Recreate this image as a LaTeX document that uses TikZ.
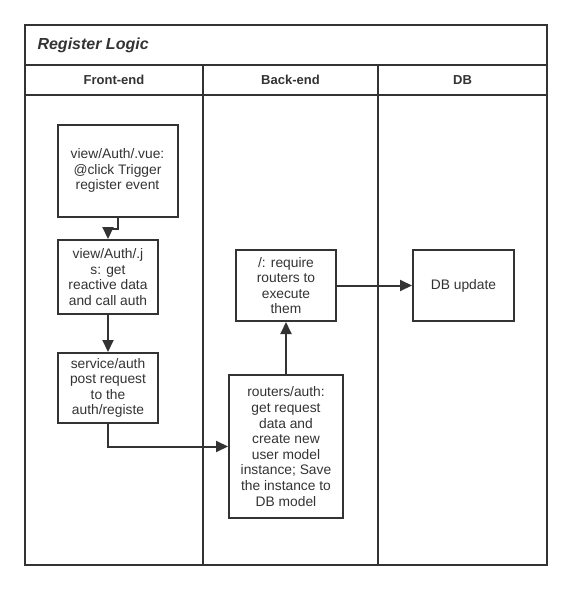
\documentclass[tikz,border=0pt]{standalone}
\usepackage{fontspec}
\setmainfont{Liberation Sans}
\usetikzlibrary{arrows.meta}
\definecolor{ink}{HTML}{333333}

\begin{document}
\begin{tikzpicture}[x=1pt, y=-1pt,
  lane/.style={draw=ink, line width=2pt},
  box/.style={draw=ink, line width=2pt, align=center, text=ink, inner sep=0pt,
    font=\fontsize{13.8}{15.6}\selectfont},
  flow/.style={draw=ink, line width=2pt, -{Triangle[length=12pt,width=11pt]}},
  head/.style={text=ink, font=\fontsize{13}{15}\selectfont\bfseries}]
\useasboundingbox (0,0) rectangle (572,590);
% pool and lanes
\draw[lane] (25,25) rectangle (547,565);
\draw[lane] (25,65) -- (547,65);
\draw[lane] (25,95) -- (547,95);
\draw[lane] (203,65) -- (203,565);
\draw[lane] (378,65) -- (378,565);
\node[text=ink, anchor=west, font=\fontsize{16}{19}\selectfont\bfseries\itshape] (title) at (34,45) {Register Logic};
\node[head] (front) at (114,80) {Front-end};
\node[head] (back) at (290.5,80) {Back-end};
\node[head] (db) at (462.5,80) {DB};

% steps
\node[box, minimum width=120pt, minimum height=92pt] (vue) at (117.5,170.5) {view/Auth/.vue:\\@click Trigger\\register event};
\node[box, minimum width=100pt, minimum height=74pt] (js) at (108,277) {view/Auth/.j\\s: get\\reactive data\\and call auth};
\node[box, minimum width=100pt, minimum height=70pt] (post) at (108,388) {service/auth\\post request\\to the\\auth/registe};
\node[box, minimum width=114pt, minimum height=143pt] (routes) at (286,446.5) {routers/auth:\\get request\\data and\\create new\\user model\\instance; Save\\the instance to\\DB model};
\node[box, minimum width=100pt, minimum height=71pt] (require) at (286,285.5) {/: require\\routers to\\execute\\them};
\node[box, minimum width=101pt, minimum height=71pt] (update) at (463.5,285.5) {DB update};

% connectors
\draw[flow] (vue.south) -- ++(0,11) -| (js.north);
\draw[flow] (js) -- (post);
\draw[flow] (post.south) |- (routes.west);
\draw[flow] (routes) -- (require);
\draw[flow] (require) -- (update);
\end{tikzpicture}
\end{document}
